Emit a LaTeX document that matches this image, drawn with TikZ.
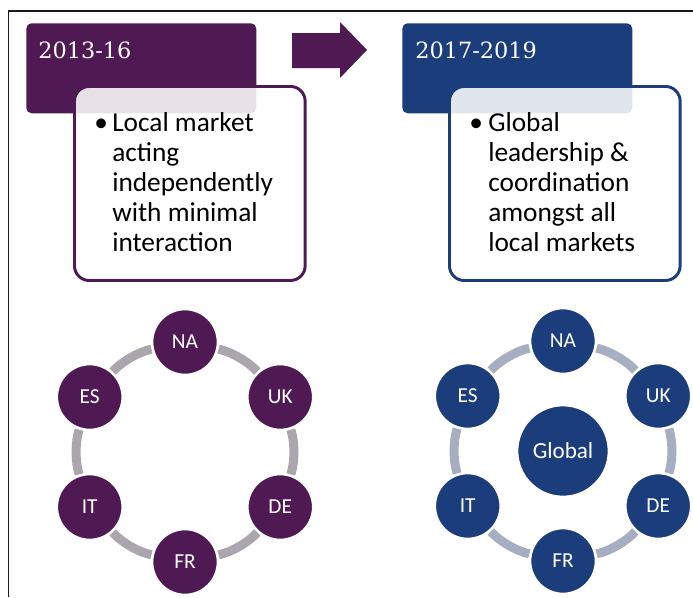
\documentclass[tikz,border=0pt]{standalone}
\usepackage{fontspec}
\setmainfont{Carlito}
\newfontfamily\yearfont{DejaVu Serif}
\usetikzlibrary{positioning}

\definecolor{plum}{HTML}{4F1A54}
\definecolor{navy}{HTML}{1B3D7B}
\definecolor{plumring}{HTML}{ABA5AD}
\definecolor{navyring}{HTML}{A8AEC1}

\tikzset{
    yearbox/.style={rectangle, rounded corners=4pt, fill=#1, minimum width=172.5pt,
        minimum height=67.5pt, anchor=north west, inner sep=0pt},
    yeartext/.style={text=white, font=\yearfont\fontsize{16.8}{18}\selectfont,
        anchor=base west, inner sep=0pt},
    notebox/.style={rectangle, rounded corners=11pt, draw=#1, line width=2.2pt,
        fill=white, fill opacity=0.87, minimum width=173pt, minimum height=145.5pt,
        anchor=north west},
    notetext/.style={align=left, font=\fontsize{20.5}{22.5}\selectfont,
        anchor=north west, inner sep=0pt},
    bullet/.style={font=\fontsize{20.5}{22.5}\selectfont, anchor=base west, inner sep=0pt},
    market/.style={circle, fill=#1, draw=white, line width=2pt, minimum size=49.5pt,
        inner sep=0pt, text=white, font=\fontsize{16}{18}\selectfont},
    ring/.style={draw=#1, line width=6.75pt}
}

\begin{document}
\begin{tikzpicture}[x=0.75pt, y=-0.75pt]
\useasboundingbox (0,0) rectangle (693,597);

% Frame
\draw[line width=1.1pt, black!90] (8.5,597) -- (8.5,11) -- (693,11);

% Year headers
\node[yearbox=plum] (yeara) at (26,23) {};
\node[yeartext] (labela) at (38,58) {2013-16};
\node[yearbox=navy] (yearb) at (402,23) {};
\node[yeartext] (labelb) at (415,58) {2017-2019};

% Arrow between the two periods
\fill[plum] (292,33) -- (340,33) -- (340,22) -- (367,50) -- (340,78) -- (340,68)
    -- (292,68) -- cycle;

% Notes
\node[notebox=plum] (notea) at (73,85) {};
\node[bullet] (dota) at (94,131) {\textbullet};
\node[notetext] (texta) at (112,112) {Local market\\acting\\independently\\with minimal\\interaction};

\node[notebox=navy] (noteb) at (448,85) {};
\node[bullet] (dotb) at (469,131) {\textbullet};
\node[notetext] (textb) at (488,112) {Global\\leadership \&\\coordination\\amongst all\\local markets};

% Markets, left ring
\coordinate (ca) at (185,452);
\foreach \name/\ang in {NA/-90,UK/-30,DE/30,FR/90,IT/150,ES/210}
    \node[market=plum] (\name-a) at ([shift={(\ang:110)}]ca) {\name};
\foreach \a/\b in {NA/UK,UK/DE,DE/FR,FR/IT,IT/ES,ES/NA}
    \draw[ring=plumring] (\a-a) to[bend left=18, looseness=0.75] (\b-a);

% Markets, right ring with the global hub
\coordinate (cb) at (563,451);
\foreach \name/\ang in {NA/-90,UK/-30,DE/30,FR/90,IT/150,ES/210}
    \node[market=navy] (\name-b) at ([shift={(\ang:110)}]cb) {\name};
\foreach \a/\b in {NA/UK,UK/DE,DE/FR,FR/IT,IT/ES,ES/NA}
    \draw[ring=navyring] (\a-b) to[bend left=18, looseness=0.75] (\b-b);
\node[market=navy, minimum size=69pt, font=\fontsize{17.3}{19}\selectfont] (global) at (cb) {Global};

\end{tikzpicture}
\end{document}
